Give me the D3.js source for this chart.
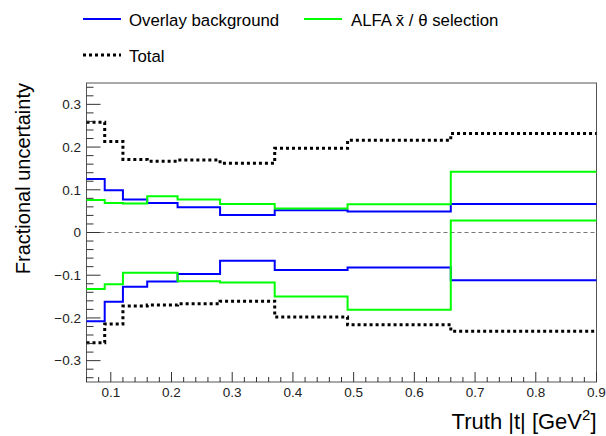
<!DOCTYPE html>
<html><head><meta charset="utf-8">
<script src="https://cdn.jsdelivr.net/npm/d3@7"></script>
<style>body{margin:0;background:#fff}svg{display:block;font-family:"Liberation Sans",Arial,sans-serif}</style>
</head><body><svg id="c" width="606" height="436"></svg>
<script>
const binEdges = [0.06, 0.09, 0.12, 0.16, 0.21, 0.28, 0.37, 0.49, 0.66, 0.9];
const overlayUp   = [0.125, 0.099, 0.077, 0.069, 0.059, 0.041, 0.052, 0.049, 0.067];
const overlayDown = [-0.208, -0.162, -0.127, -0.115, -0.097, -0.066, -0.088, -0.082, -0.112];
const alfaUp      = [0.076, 0.069, 0.068, 0.085, 0.077, 0.067, 0.056, 0.066, 0.142];
const alfaDown    = [-0.132, -0.121, -0.094, -0.094, -0.114, -0.117, -0.150, -0.181, 0.028];
const totalUp     = [0.258, 0.213, 0.171, 0.167, 0.170, 0.162, 0.197, 0.216, 0.232];
const totalDown   = [-0.258, -0.214, -0.172, -0.170, -0.167, -0.161, -0.198, -0.216, -0.231];
const xTicks = [0.1, 0.2, 0.3, 0.4, 0.5, 0.6, 0.7, 0.8, 0.9];
const yTicks = [-0.3, -0.2, -0.1, 0, 0.1, 0.2, 0.3];
const legendLabels = ["Overlay background", "ALFA x\u0304 / \u03b8 selection", "Total"];

const svg = d3.select("#c");
const L = 86.5, R = 596.5, T = 83, B = 382;
const x = d3.scaleLinear().domain([0.06, 0.9]).range([L, R]);
const y = d3.scaleLinear().domain([-0.35, 0.35]).range([B, T]);

// frame
svg.append("rect").attr("x", L).attr("y", T).attr("width", R - L).attr("height", B - T)
  .attr("fill", "none").attr("stroke", "#555").attr("stroke-width", 1);

// zero line
svg.append("line").attr("x1", L).attr("x2", R).attr("y1", y(0)).attr("y2", y(0))
  .attr("stroke", "#777").attr("stroke-width", 1).attr("stroke-dasharray", "4,3");

// step histograms
function hist(vals, color, width, dash) {
  const pts = vals.map((v, i) => [binEdges[i], v]);
  pts.push([binEdges[binEdges.length - 1], vals[vals.length - 1]]);
  const line = d3.line().x(d => x(d[0])).y(d => y(d[1])).curve(d3.curveStepAfter);
  const p = svg.append("path").attr("d", line(pts)).attr("fill", "none")
    .attr("stroke", color).attr("stroke-width", width);
  if (dash) p.attr("stroke-dasharray", dash);
}
hist(overlayUp, "#0000ff", 2);
hist(overlayDown, "#0000ff", 2);
hist(alfaUp, "#00ff00", 2);
hist(alfaDown, "#00ff00", 2);
hist(totalUp, "#000", 3, "3,3");
hist(totalDown, "#000", 3, "3,3");

// x axis ticks
const gx = svg.append("g");
const xMinor = d3.range(0.06, 0.9001, 0.02);
xMinor.forEach(v => {
  const major = xTicks.some(t => Math.abs(t - v) < 1e-6);
  gx.append("line").attr("x1", x(v)).attr("x2", x(v)).attr("y1", B).attr("y2", B - (major ? 10 : 5))
    .attr("stroke", "#333").attr("stroke-width", 1);
});
xTicks.forEach(v => {
  gx.append("text").attr("x", x(v)).attr("y", 397).attr("text-anchor", "middle")
    .attr("font-size", 13.5).attr("fill", "#222").text(d3.format(".1f")(v));
});
// y axis ticks
const gy = svg.append("g");
const yMinor = d3.range(-0.34, 0.3401, 0.02);
yMinor.forEach(v => {
  const major = yTicks.some(t => Math.abs(t - v) < 1e-6);
  gy.append("line").attr("x1", L).attr("x2", L + (major ? 14 : 7)).attr("y1", y(v)).attr("y2", y(v))
    .attr("stroke", "#333").attr("stroke-width", 1);
});
yTicks.forEach(v => {
  const s = v === 0 ? "0" : (v < 0 ? "\u2212" + d3.format(".1f")(-v) : d3.format(".1f")(v));
  gy.append("text").attr("x", 81).attr("y", y(v) + 4.8).attr("text-anchor", "end")
    .attr("font-size", 13.5).attr("fill", "#222").text(s);
});

// axis titles
svg.append("text").attr("transform", `translate(30,${T}) rotate(-90)`).attr("text-anchor", "end")
  .attr("font-size", 20).text("Fractional uncertainty");
const xt = svg.append("text").attr("x", 596.5).attr("y", 429).attr("text-anchor", "end").attr("font-size", 22);
xt.append("tspan").text("Truth |t| [GeV");
xt.append("tspan").attr("font-size", 15).attr("dy", -9).text("2");
xt.append("tspan").attr("dy", 9).text("]");

// legend
const leg = [
  {label: legendLabels[0], color: "#0000ff", w: 2, dash: null, x0: 83, tx: 129, y: 19},
  {label: legendLabels[1], color: "#00ff00", w: 2, dash: null, x0: 304, tx: 351, y: 19},
  {label: legendLabels[2], color: "#000", w: 3, dash: "3,3", x0: 83, tx: 129, y: 55}
];
leg.forEach(d => {
  const l = svg.append("line").attr("x1", d.x0).attr("x2", d.x0 + 38).attr("y1", d.y).attr("y2", d.y)
    .attr("stroke", d.color).attr("stroke-width", d.w);
  if (d.dash) l.attr("stroke-dasharray", d.dash);
  svg.append("text").attr("x", d.tx).attr("y", d.y + 7).attr("font-size", 16.8).text(d.label);
});
</script></body></html>
